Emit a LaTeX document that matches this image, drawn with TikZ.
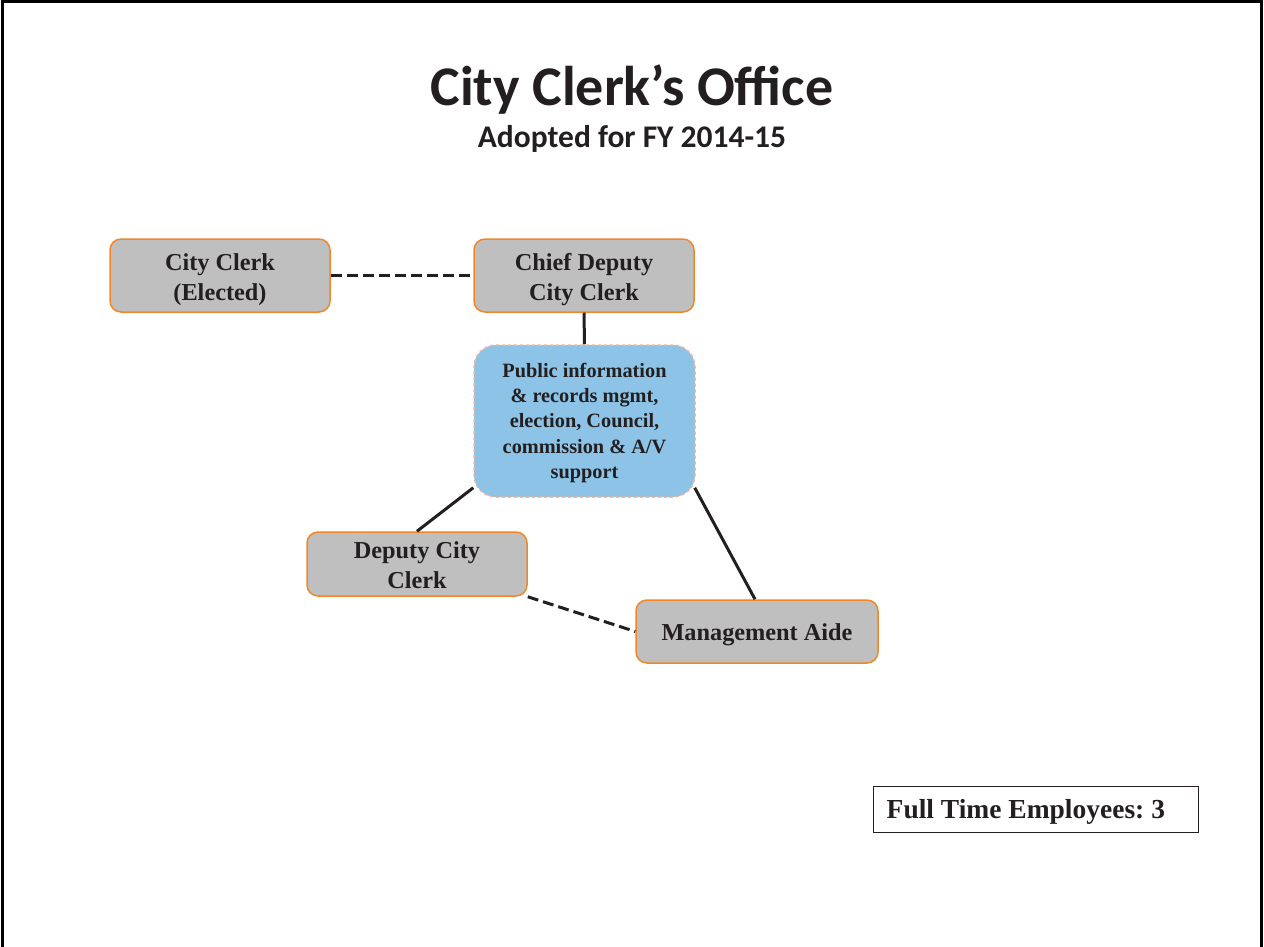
\documentclass[tikz,border=0pt]{standalone}
\usepackage{fontspec}
\setmainfont{Liberation Serif}
\newfontfamily\carlitofont{Carlito}
\usetikzlibrary{calc}
\definecolor{boxgray}{HTML}{BFBFBF}
\definecolor{boxorange}{HTML}{F0882A}
\definecolor{boxblue}{HTML}{8CC3E7}
\definecolor{dashorange}{HTML}{F6B29A}
\definecolor{inkdark}{HTML}{231F20}
\tikzset{
  x=1pt,y=-1pt,
  graybox/.style={draw=boxorange, line width=1.5pt, fill=boxgray, rounded corners=11pt, inner sep=0pt},
  bluebox/.style={draw=dashorange, dashed, line width=1.5pt, fill=boxblue, rounded corners=22pt, inner sep=0pt},
  graytext/.style={align=center, inner sep=0pt, text=inkdark,
    font=\fontsize{24.3}{30}\selectfont\bfseries},
  bluetext/.style={align=center, inner sep=0pt, text=inkdark,
    font=\fontsize{20.3}{25.25}\selectfont\bfseries},
  solidlink/.style={draw=inkdark, line width=3pt},
  dashlink/.style={draw=inkdark, line width=3pt, dash pattern=on 11pt off 5pt},
}
\begin{document}
\begin{tikzpicture}
\useasboundingbox (0,0) rectangle (1264,947);
\fill[white] (0,0) rectangle (1264,947);
\draw[line width=3pt] (2.5,947) -- (2.5,1.5) -- (1261.5,1.5) -- (1261.5,947);

\node[font=\carlitofont\fontsize{56}{60}\selectfont\bfseries, text=inkdark, anchor=base] (title) at (632,106) {City Clerk’s Office};
\node[font=\carlitofont\fontsize{31.5}{34}\selectfont\bfseries, text=inkdark, anchor=base] (subtitle) at (632,148) {Adopted for FY 2014-15};

\node[graybox, minimum width=220pt, minimum height=73pt] (cc) at (220,275.5) {};
\node[graytext] (cctext) at ($(cc.center)+(0,4)$) {City Clerk\\(Elected)};
\node[graybox, minimum width=220pt, minimum height=73pt] (cd) at (584,275.5) {};
\node[graytext] (cdtext) at ($(cd.center)+(0,4)$) {Chief Deputy\\City Clerk};
\node[bluebox, minimum width=221pt, minimum height=152pt] (pi) at (584.5,421) {};
\node[bluetext] (pitext) at ($(pi.center)+(0,2)$) {Public information\\\& records mgmt,\\election, Council,\\commission \& A/V\\support};
\node[graybox, minimum width=220pt, minimum height=64pt] (dep) at (417,564) {};
\node[graytext] (deptext) at ($(dep.center)+(0,1)$) {Deputy City\\Clerk};
\node[graybox, minimum width=242pt, minimum height=63pt] (ma) at (757,631.5) {};
\node[graytext] (matext) at ($(ma.center)+(0,3)$) {Management Aide};
\node[draw=inkdark, line width=1pt, minimum width=325pt, minimum height=46pt, inner sep=0pt] (fte) at (1035.5,809) {};
\node[font=\frenchspacing\fontsize{27.5}{30}\selectfont\bfseries, text=inkdark, anchor=west, inner sep=0pt] (ftetext) at ($(fte.west)+(14,3)$) {Full Time Employees: 3};

\draw[dashlink] (cc.east) -- (cd.west);
\draw[solidlink] (cd.south) -- (pi.north);
\draw[solidlink] ($(pi.south west)+(0,-10)$) -- (dep.north);
\draw[solidlink] ($(pi.south east)+(-1,-10)$) -- ($(ma.north)+(-2,0)$);
\draw[dashlink] (dep.south east) -- (ma.west);
\end{tikzpicture}
\end{document}
